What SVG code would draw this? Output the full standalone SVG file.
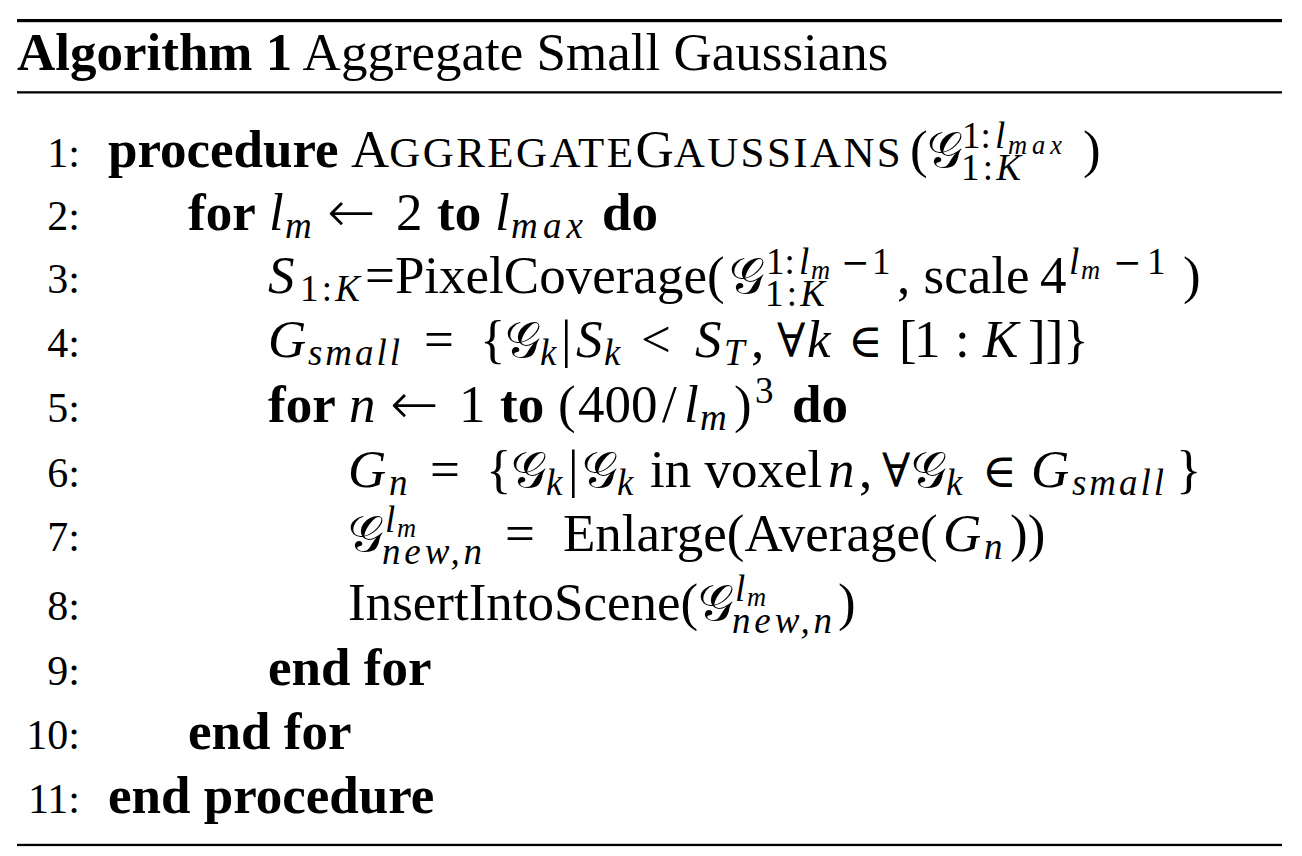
<svg xmlns="http://www.w3.org/2000/svg" width="1302" height="856" viewBox="0 0 1302 856">
<style>
text{font-family:"Liberation Serif","Times New Roman",serif;font-size:53px;fill:#000}
.b{font-weight:bold}
.i{font-style:italic}
.n{font-size:42px;text-anchor:end}
.s{font-size:37px}
.ss{font-size:26.5px}
.scp{font-size:43px;letter-spacing:2.4px}
.sym{font-family:"DejaVu Serif","Liberation Serif",serif;font-size:47px}
.sm{font-family:"DejaVu Serif","Liberation Serif",serif;font-size:34px}
.arr{font-family:"DejaVu Sans","DejaVu Serif",sans-serif;font-size:58px;font-weight:200}
.cal{font-family:"DejaVu Serif","DejaVu Sans","Noto Sans",serif;font-size:50px}
.rule{fill:#000}
</style>
<rect width="1302" height="856" fill="#fff"/>
<g id="rules">
<rect class="rule" x="17" y="19" width="1265" height="3.2"/>
<rect class="rule" x="17" y="91.2" width="1265" height="2.3"/>
<rect class="rule" x="17" y="843.8" width="1265" height="2.3"/>
</g>
<g id="caption">
<text x="17" y="70"><tspan class="b">Algorithm 1</tspan> Aggregate Small Gaussians</text>
</g>
<g id="line1">
<text class="n" x="80" y="167">1:</text>
<text class="b" x="108" y="167">procedure</text>
<text x="351" y="167">A<tspan class="scp">GGREGATE</tspan>G<tspan class="scp">AUSSIANS</tspan></text>
<text x="910" y="167">(</text>
<text class="cal" x="927" y="167">𝒢</text>
<text class="s" x="962" y="148">1:</text>
<text class="s i" x="995" y="148">l</text>
<text class="ss i" x="1008" y="154" textLength="54" lengthAdjust="spacing">max</text>
<text class="s" x="961" y="180" textLength="60" lengthAdjust="spacing">1:<tspan class="i">K</tspan></text>
<text x="1083" y="167">)</text>
</g>
<g id="line2">
<text class="n" x="80" y="230">2:</text>
<text class="b" x="188" y="230">for</text>
<text class="i" x="269" y="230">l</text>
<text class="s i" x="285" y="238">m</text>
<text class="arr" x="327" y="232">←</text>
<text x="396" y="230">2</text>
<text class="b" x="437" y="230">to</text>
<text class="i" x="495" y="230">l</text>
<text class="s i" x="511" y="238" textLength="72" lengthAdjust="spacing">max</text>
<text class="b" x="602" y="230">do</text>
</g>
<g id="line3">
<text class="n" x="80" y="293">3:</text>
<text class="i" x="268" y="293">S</text>
<text class="s" x="300" y="301" textLength="60" lengthAdjust="spacing">1:<tspan class="i">K</tspan></text>
<text x="365" y="293">=PixelCoverage(</text>
<text class="cal" x="729" y="293">𝒢</text>
<text class="s" x="766" y="274">1:</text>
<text class="s i" x="799" y="274">l</text>
<text class="ss i" x="811" y="279">m</text>
<text class="sm" x="841" y="274">−</text>
<text class="s" x="872" y="274">1</text>
<text class="s" x="765" y="306" textLength="60" lengthAdjust="spacing">1:<tspan class="i">K</tspan></text>
<text x="897" y="293">, scale</text>
<text x="1040" y="293">4</text>
<text class="s i" x="1069" y="274">l</text>
<text class="ss i" x="1081" y="279">m</text>
<text class="sm" x="1113" y="274">−</text>
<text class="s" x="1147" y="274">1</text>
<text x="1183" y="293">)</text>
</g>
<g id="line4">
<text class="n" x="80" y="357">4:</text>
<text class="i" x="268" y="357">G</text>
<text class="s i" x="308" y="365" textLength="92" lengthAdjust="spacing">small</text>
<text x="424" y="357">=</text>
<text x="480" y="357">{</text>
<text class="cal" x="505" y="357">𝒢</text>
<text class="s i" x="540" y="365">k</text>
<text x="561" y="357">|</text>
<text class="i" x="576" y="357">S</text>
<text class="s i" x="604" y="365">k</text>
<text x="641" y="357">&lt;</text>
<text class="i" x="695" y="357">S</text>
<text class="s i" x="724" y="365">T</text>
<text x="751" y="357">,</text>
<text class="sym" x="777" y="357">∀</text>
<text class="i" x="807" y="357">k</text>
<text class="sym" x="848" y="357">∈</text>
<text x="899" y="357">[</text>
<text x="914" y="357">1</text>
<text x="955" y="357">:</text>
<text class="i" x="983" y="357">K</text>
<text x="1028" y="357">]]}</text>
</g>
<g id="line5">
<text class="n" x="80" y="422">5:</text>
<text class="b" x="268" y="422">for</text>
<text class="i" x="349" y="422">n</text>
<text class="arr" x="390" y="424">←</text>
<text x="459" y="422">1</text>
<text class="b" x="500" y="422">to</text>
<text x="558" y="422">(</text>
<text x="578" y="422">400</text>
<text x="662" y="422">/</text>
<text class="i" x="684" y="422">l</text>
<text class="s i" x="700" y="430">m</text>
<text x="734" y="422">)</text>
<text class="s" x="755" y="403">3</text>
<text class="b" x="792" y="422">do</text>
</g>
<g id="line6">
<text class="n" x="80" y="487">6:</text>
<text class="i" x="348" y="487">G</text>
<text class="s i" x="389" y="495">n</text>
<text x="430" y="487">=</text>
<text x="486" y="487">{</text>
<text class="cal" x="511" y="487">𝒢</text>
<text class="s i" x="546" y="495">k</text>
<text x="568" y="487">|</text>
<text class="cal" x="582" y="487">𝒢</text>
<text class="s i" x="617" y="495">k</text>
<text x="650" y="487">in voxel</text>
<text class="i" x="828" y="487">n</text>
<text x="859" y="487">,</text>
<text class="sym" x="882" y="487">∀</text>
<text class="cal" x="911" y="487">𝒢</text>
<text class="s i" x="946" y="495">k</text>
<text class="sym" x="982" y="487">∈</text>
<text class="i" x="1031" y="487">G</text>
<text class="s i" x="1072" y="495" textLength="92" lengthAdjust="spacing">small</text>
<text x="1176" y="487">}</text>
</g>
<g id="line7">
<text class="n" x="80" y="551">7:</text>
<text class="cal" x="348" y="551">𝒢</text>
<text class="s i" x="385" y="532">l</text>
<text class="ss i" x="397" y="537">m</text>
<text class="s i" x="382" y="564" textLength="100" lengthAdjust="spacing">new,n</text>
<text x="505" y="551">=</text>
<text x="563" y="551">Enlarge(Average(</text>
<text class="i" x="943" y="551">G</text>
<text class="s i" x="984" y="559">n</text>
<text x="1010" y="551">))</text>
</g>
<g id="line8">
<text class="n" x="80" y="620">8:</text>
<text x="348" y="620">InsertIntoScene(</text>
<text class="cal" x="698" y="620">𝒢</text>
<text class="s i" x="735" y="601">l</text>
<text class="ss i" x="747" y="606">m</text>
<text class="s i" x="732" y="633" textLength="100" lengthAdjust="spacing">new,n</text>
<text x="838" y="620">)</text>
</g>
<g id="line9">
<text class="n" x="80" y="685">9:</text>
<text class="b" x="268" y="685">end for</text>
</g>
<g id="line10">
<text class="n" x="80" y="749">10:</text>
<text class="b" x="188" y="749">end for</text>
</g>
<g id="line11">
<text class="n" x="80" y="813">11:</text>
<text class="b" x="108" y="813">end procedure</text>
</g>
</svg>
